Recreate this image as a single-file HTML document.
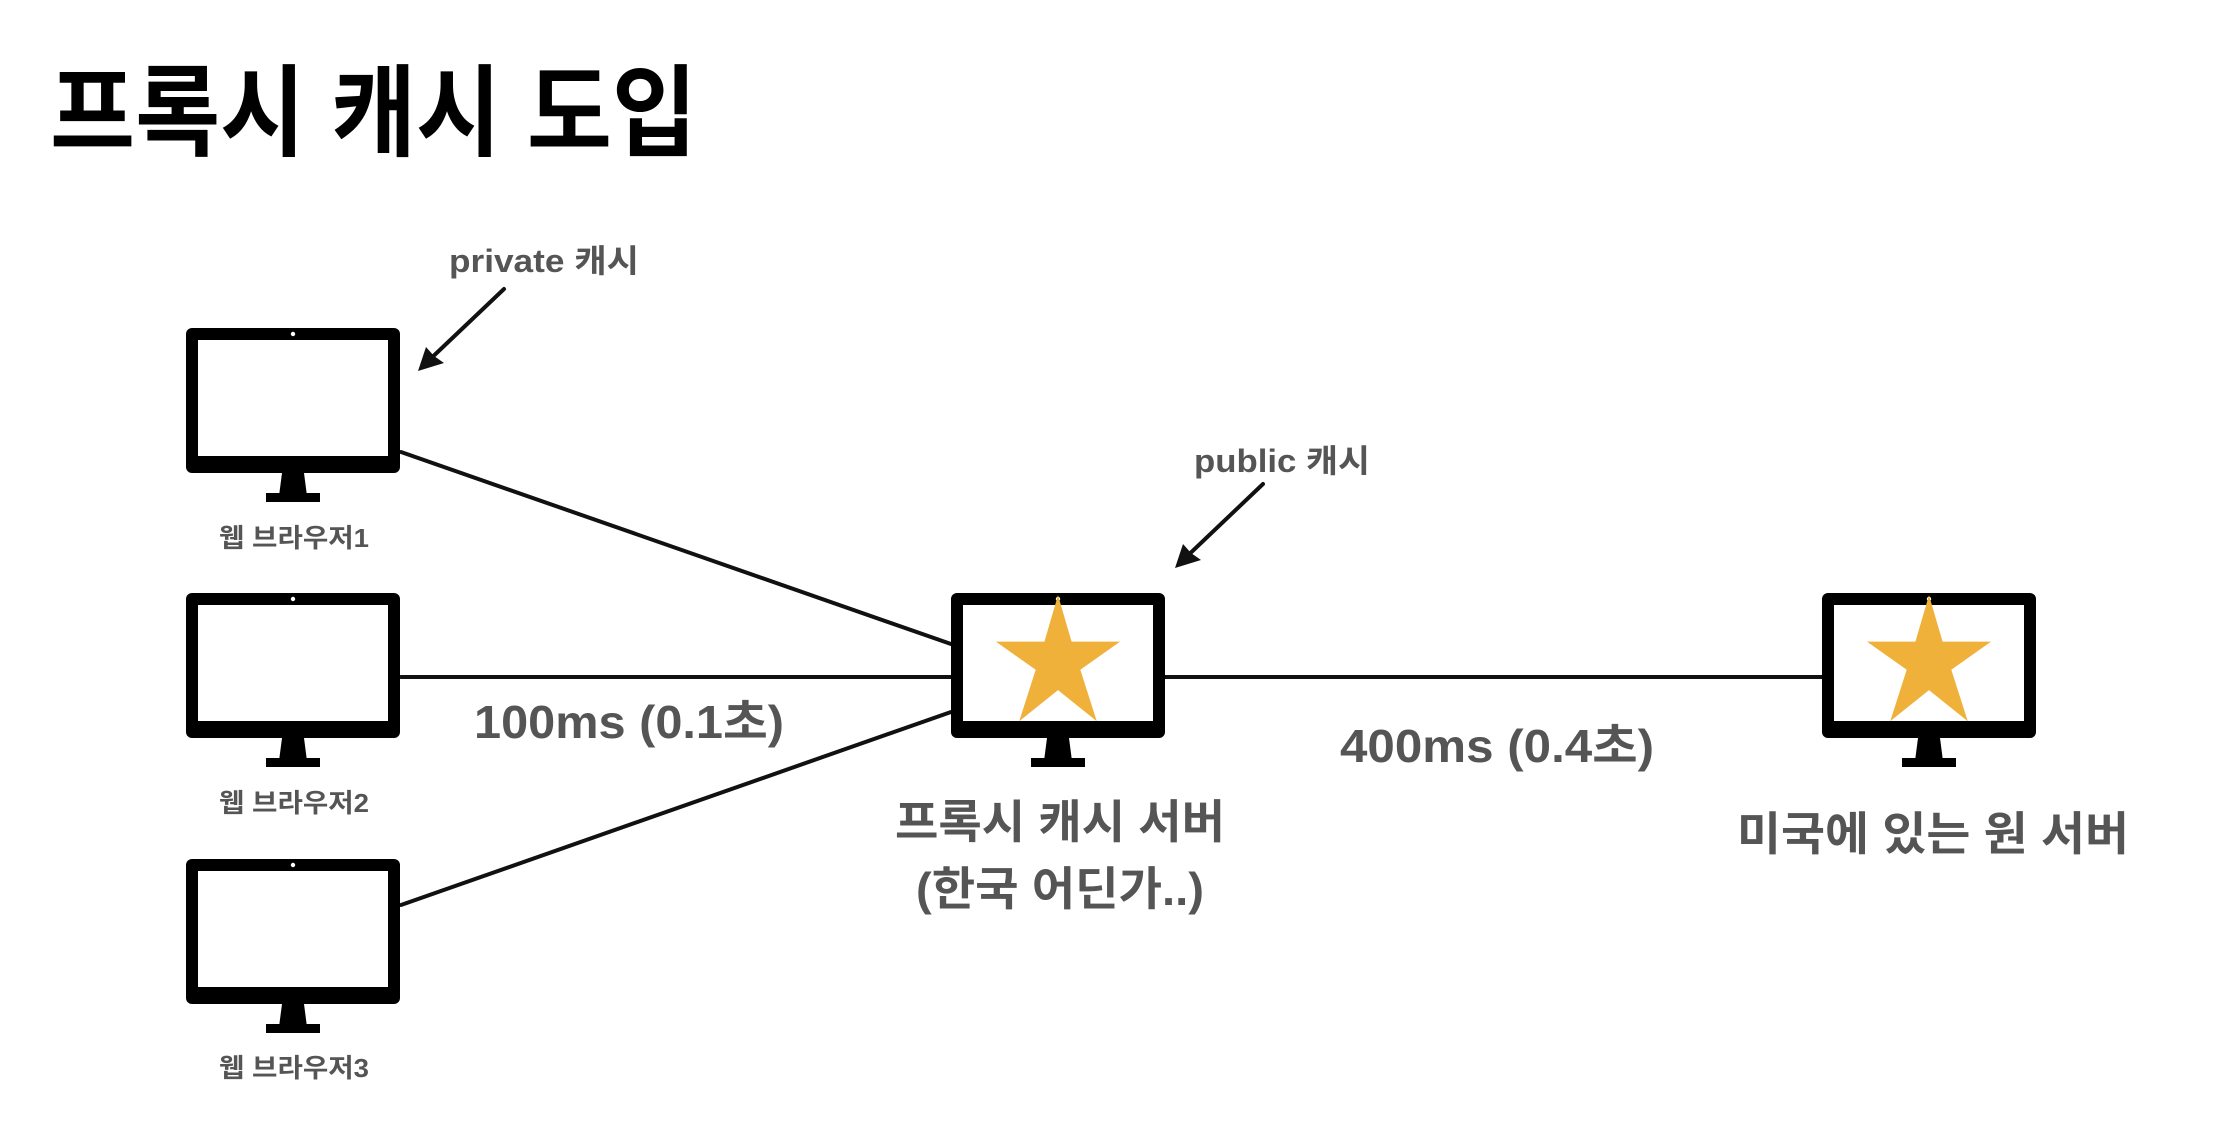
<!DOCTYPE html>
<html><head><meta charset="utf-8"><style>
html,body{margin:0;padding:0;background:#fff;}
svg{display:block;}
text{font-family:"Liberation Sans","Noto Sans CJK KR","NanumGothic",sans-serif;font-weight:bold;}
</style></head><body>
<svg width="2234" height="1144" viewBox="0 0 2234 1144" xmlns="http://www.w3.org/2000/svg">
<defs>
<g id="mon">
  <rect x="0" y="0" width="214" height="145" rx="6" fill="#000"/>
  <rect x="12" y="12" width="190" height="116" fill="#fff"/>
  <circle cx="107" cy="6" r="2.2" fill="#fff"/>
  <polygon points="96,145 118,145 121,168 93,168" fill="#000"/>
  <rect x="80" y="165" width="54" height="9" fill="#000"/>
</g>
<polygon id="star" points="0,-70 14,-22 64,-22 23,7 40,60 0,28 -40,60 -23,7 -64,-22 -14,-22" fill="#F0B13B"/>
</defs>

<text x="50" y="148" font-size="100" fill="#000" textLength="647" lengthAdjust="spacingAndGlyphs">프록시 캐시 도입</text>

<g stroke="#111" stroke-width="4" fill="none" stroke-linecap="round">
  <line x1="401" y1="452" x2="951" y2="644"/>
  <line x1="401" y1="677" x2="951" y2="677"/>
  <line x1="401" y1="905" x2="951" y2="712"/>
  <line x1="1165" y1="677" x2="1822" y2="677"/>
  <line x1="504" y1="289" x2="424" y2="365"/>
  <line x1="1263" y1="484" x2="1181" y2="562"/>
</g>
<polygon points="418,371 426,347 434,356 444,363" fill="#111"/>
<polygon points="1175,568 1183,544 1191,553 1201,560" fill="#111"/>

<use href="#mon" x="186" y="328"/>
<use href="#mon" x="186" y="593"/>
<use href="#mon" x="186" y="859"/>
<use href="#mon" x="951" y="593"/>
<use href="#mon" x="1822" y="593"/>
<use href="#star" transform="translate(1058,663) scale(0.97)"/>
<use href="#star" transform="translate(1929,663) scale(0.97)"/>

<g fill="#555" text-anchor="middle">
<text x="294" y="547" font-size="26" textLength="150" lengthAdjust="spacingAndGlyphs">웹 브라우저1</text>
<text x="294" y="812" font-size="26" textLength="150" lengthAdjust="spacingAndGlyphs">웹 브라우저2</text>
<text x="294" y="1077" font-size="26" textLength="150" lengthAdjust="spacingAndGlyphs">웹 브라우저3</text>
<text x="544" y="272" font-size="32" textLength="190" lengthAdjust="spacingAndGlyphs">private 캐시</text>
<text x="1282" y="472" font-size="32" textLength="176" lengthAdjust="spacingAndGlyphs">public 캐시</text>
<text x="629" y="738" font-size="46" textLength="310" lengthAdjust="spacingAndGlyphs">100ms (0.1초)</text>
<text x="1497" y="762" font-size="46" textLength="314" lengthAdjust="spacingAndGlyphs">400ms (0.4초)</text>
<text x="1060" y="838" font-size="46" textLength="330" lengthAdjust="spacingAndGlyphs">프록시 캐시 서버</text>
<text x="1060" y="905" font-size="46" textLength="288" lengthAdjust="spacingAndGlyphs">(한국 어딘가..)</text>
<text x="1933" y="850" font-size="46" textLength="392" lengthAdjust="spacingAndGlyphs">미국에 있는 원 서버</text>
</g>
</svg>
</body></html>
